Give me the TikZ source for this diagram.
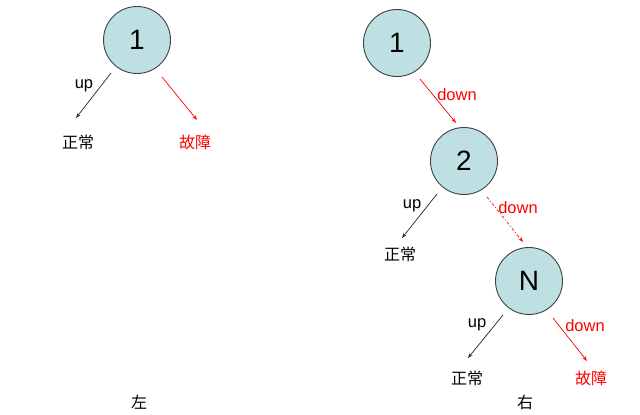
\documentclass[tikz,border=0pt]{standalone}
\usepackage{fontspec}
\setmainfont{Liberation Sans}
\newfontfamily\cjk{Noto Sans CJK SC}
\usetikzlibrary{arrows.meta}
\definecolor{nodefill}{HTML}{BEE0E3}
\definecolor{nodeedge}{HTML}{404040}
\begin{document}
\begin{tikzpicture}[x=1pt,y=-1pt,
  statenode/.style={circle,draw=nodeedge,fill=nodefill,line width=0.9pt,minimum size=67pt,inner sep=0pt,font=\fontsize{28}{28}\selectfont},
  lbl/.style={inner sep=0pt,font=\fontsize{16.5}{16.5}\selectfont},
  cjktext/.style={inner sep=0pt,font=\cjk\fontsize{16}{16}\selectfont},
  okarrow/.style={draw=black!85,line width=0.7pt,-{Stealth[length=5pt,width=3.5pt]}},
  failarrow/.style={draw=red,line width=0.7pt,-{Stealth[length=5pt,width=3.5pt]}},
  failarrowdd/.style={failarrow,dash pattern=on 3pt off 2pt on 1pt off 2pt}
]
\useasboundingbox (0,0) rectangle (640,415);
% left tree
\node[statenode] (L1) at (137,40) {1};
\coordinate (L1a) at (111,73);
\coordinate (L1b) at (76,118);
\coordinate (L1c) at (162,77);
\coordinate (L1d) at (197,120);
\draw[okarrow] (L1a) -- (L1b);
\draw[failarrow] (L1c) -- (L1d);
\node[lbl] (Lup) at (84,86) {up};
\node[cjktext] (Lok) at (78,142) {正常};
\node[cjktext,text=red] (Lfail) at (195,142) {故障};
\node[cjktext] (Lcap) at (139,402) {左};
% right tree
\node[statenode] (R1) at (397,43) {1};
\node[statenode] (R2) at (464,161) {2};
\node[statenode] (RN) at (529,281) {N};
\coordinate (R1c) at (420,79);
\coordinate (R1d) at (456,123);
\draw[failarrow] (R1c) -- (R1d);
\node[lbl,text=red] (R1down) at (457,95) {down};
\coordinate (R2a) at (437,194);
\coordinate (R2b) at (402,238);
\draw[okarrow] (R2a) -- (R2b);
\node[lbl] (R2up) at (412,206) {up};
\node[cjktext] (R2ok) at (400,254) {正常};
\coordinate (R2c) at (487,197);
\coordinate (R2d) at (523,242);
\draw[failarrowdd] (R2c) -- (R2d);
\node[lbl,text=red] (R2down) at (518,208) {down};
\coordinate (RNa) at (503,315);
\coordinate (RNb) at (468,358);
\draw[okarrow] (RNa) -- (RNb);
\node[lbl] (RNup) at (477,325) {up};
\node[cjktext] (RNok) at (467,378) {正常};
\coordinate (RNc) at (553,318);
\coordinate (RNd) at (587,361);
\draw[failarrow] (RNc) -- (RNd);
\node[lbl,text=red] (RNdown) at (585,326) {down};
\node[cjktext,text=red] (RNfail) at (591,378) {故障};
\node[cjktext] (Rcap) at (525,402) {右};
\end{tikzpicture}
\end{document}
